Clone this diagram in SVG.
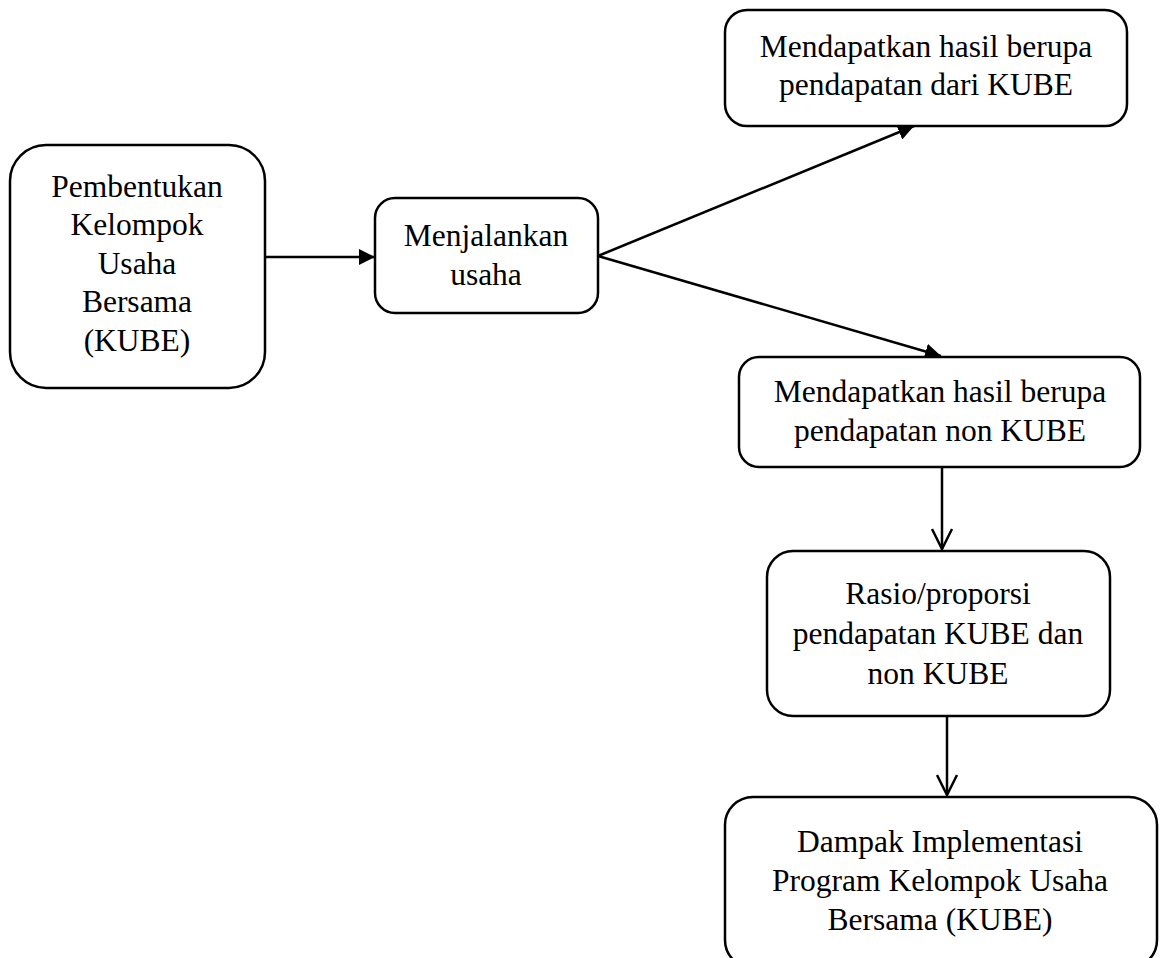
<svg xmlns="http://www.w3.org/2000/svg" width="1166" height="958" viewBox="0 0 1166 958">
<style>
.box{fill:#fff;stroke:#000;stroke-width:2.5}
.t{font-family:"Liberation Serif","Times New Roman",serif;font-size:31.5px;text-anchor:middle;fill:#000}
.c{stroke:#000;stroke-width:2.5;fill:none}
</style>
<defs>
<marker id="fa" viewBox="0 0 10 10" refX="10" refY="5" markerWidth="16" markerHeight="16" markerUnits="userSpaceOnUse" orient="auto"><path d="M0,0 L10,5 L0,10 Z" fill="#000"/></marker>
<marker id="oa" viewBox="0 0 23 23" refX="21.5" refY="11.5" markerWidth="23" markerHeight="23" markerUnits="userSpaceOnUse" orient="auto"><path d="M1.5,1.5 L21.5,11.5 L1.5,21.5" fill="none" stroke="#000" stroke-width="2.5"/></marker>
</defs>
<rect width="1166" height="958" fill="#fff"/>
<g id="connectors">
<line class="c" x1="265" y1="257" x2="375" y2="257" marker-end="url(#fa)"/>
<line class="c" x1="598" y1="256" x2="914" y2="126" marker-end="url(#fa)"/>
<line class="c" x1="598" y1="256" x2="941" y2="356" marker-end="url(#fa)"/>
<line class="c" x1="942" y1="467" x2="942" y2="549" marker-end="url(#oa)"/>
<line class="c" x1="947" y1="716" x2="947" y2="795" marker-end="url(#oa)"/>
</g>
<g id="n1"><rect class="box" x="10" y="145" width="255" height="243" rx="36"/>
<text class="t" x="137" y="197">Pembentukan</text><text class="t" x="137" y="235">Kelompok</text><text class="t" x="137" y="274">Usaha</text><text class="t" x="137" y="312">Bersama</text><text class="t" x="137" y="351">(KUBE)</text></g>
<g id="n2"><rect class="box" x="375" y="198" width="223" height="115" rx="20"/>
<text class="t" x="486" y="246">Menjalankan</text><text class="t" x="486" y="285">usaha</text></g>
<g id="n3"><rect class="box" x="725" y="10" width="402" height="116" rx="22"/>
<text class="t" x="926" y="57">Mendapatkan hasil berupa</text><text class="t" x="926" y="95">pendapatan dari KUBE</text></g>
<g id="n4"><rect class="box" x="739" y="357" width="401" height="110" rx="20"/>
<text class="t" x="940" y="402">Mendapatkan hasil berupa</text><text class="t" x="940" y="441">pendapatan non KUBE</text></g>
<g id="n5"><rect class="box" x="767" y="551" width="343" height="165" rx="26"/>
<text class="t" x="938" y="604">Rasio/proporsi</text><text class="t" x="938" y="644">pendapatan KUBE dan</text><text class="t" x="938" y="684">non KUBE</text></g>
<g id="n6"><rect class="box" x="725" y="797" width="432" height="171" rx="28"/>
<text class="t" x="940" y="852">Dampak Implementasi</text><text class="t" x="940" y="891">Program Kelompok Usaha</text><text class="t" x="940" y="930">Bersama (KUBE)</text></g>
</svg>
